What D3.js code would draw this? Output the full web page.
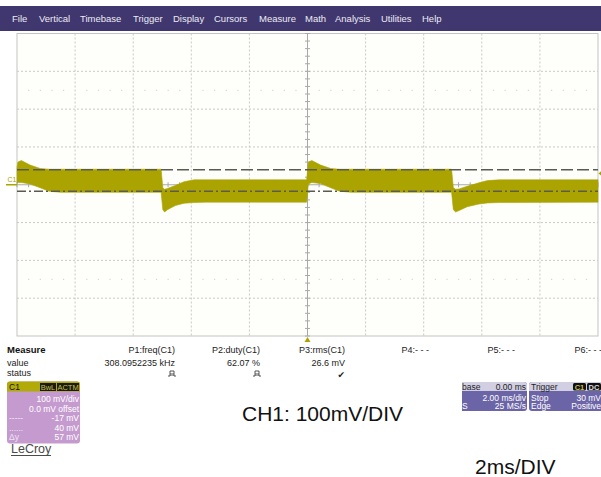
<!DOCTYPE html>
<html><head><meta charset="utf-8">
<script src="https://cdn.jsdelivr.net/npm/d3@7"></script>
<style>
html,body{margin:0;padding:0;background:#fff;}
svg{display:block;font-family:"Liberation Sans",Arial,sans-serif;}
</style></head>
<body>
<script>
// ---------------- data ----------------
const menuItems = ["File","Vertical","Timebase","Trigger","Display","Cursors","Measure","Math","Analysis","Utilities","Help"];
const menuX = [12,39,80,133,173,214,259,305,335,381,422];

// waveform envelope (time in ms, voltage in mV)
const timeMs  = [-10.00,-9.97,-9.85,-9.55,-9.20,-8.90,-8.50,-5.04,-4.98,-4.92,-4.82,-4.55,-4.25,-3.90,-3.50,-0.03,0.03,0.15,0.45,0.80,1.10,1.50,4.96,5.02,5.10,5.22,5.50,5.90,6.20,6.60,10.00];
const upperMv = [45,60,64,52,43,41,41,41,-8,-12,-10,-2,8,13,13,13,60,64,52,43,41,41,41,-8,-12,-11,-4,5,11,13,13];
const lowerMv = [4,6,6,2,-8,-17,-20,-20,-66,-72,-66,-55,-49,-47,-46,-46,2,6,3,-8,-17,-20,-20,-66,-72,-68,-58,-51,-48,-47,-46];

const cursorMv = [40, -17];       // horizontal cursors
const triggerLevelMv = 30;
const triggerTimeMs = 0;

const measNames  = ["P1:freq(C1)","P2:duty(C1)","P3:rms(C1)","P4:- - -","P5:- - -","P6:- - -"];
const measValues = ["308.0952235 kHz","62.07 %","26.6 mV","","",""];
const measStatus = ["pulse","pulse","check","","",""];

const chRows = [["","100 mV/div"],["","0.0 mV offset"],["-----","-17 mV"],["......","40 mV"],["\u0394y","57 mV"]];
const tbHeader = ["base","0.00 ms"];
const tbRows = [["","2.00 ms/div"],["S","25 MS/s"]];
const trRows = [["Stop","30 mV"],["Edge","Positive"]];

// ---------------- drawing ----------------
const W = 601, H = 477;
const olive = "#aba400";
const svg = d3.select("body").append("svg").attr("width",W).attr("height",H);

// menu bar
svg.append("rect").attr("x",0).attr("y",6).attr("width",W).attr("height",25).attr("fill","#40376f");
svg.selectAll("text.menu").data(menuItems).join("text").attr("class","menu")
  .attr("x",(d,i)=>menuX[i]).attr("y",22).attr("font-size",9.5).attr("fill","#ecebf4").text(d=>d);

// scales
const x = d3.scaleLinear().domain([-10,10]).range([17,598]);
const y = d3.scaleLinear().domain([-400,400]).range([336,33.5]);

const plot = svg.append("g");
plot.append("rect").attr("x",x(-10)).attr("y",y(400)).attr("width",x(10)-x(-10)).attr("height",y(-400)-y(400))
  .attr("fill","#fefefb").attr("stroke","#c4c4c4").attr("stroke-width",1);

const tGrid = d3.range(-8, 9, 2).filter(d=>d!==0);
const vGrid = d3.range(-300, 301, 100).filter(d=>d!==0);
plot.selectAll("line.vg").data(tGrid).join("line").attr("class","vg")
  .attr("x1",d=>x(d)).attr("x2",d=>x(d)).attr("y1",y(400)).attr("y2",y(-400))
  .attr("stroke","#c9c9c9").attr("stroke-dasharray","2,2");
plot.selectAll("line.hg").data(vGrid).join("line").attr("class","hg")
  .attr("x1",x(-10)).attr("x2",x(10)).attr("y1",d=>y(d)).attr("y2",d=>y(d))
  .attr("stroke","#c9c9c9").attr("stroke-dasharray","2,2");

// faint dots rows
const dotT = d3.range(-10, 10.01, 0.4).filter(d=>Math.abs(d/2-Math.round(d/2))>0.01);
[250,-250].forEach(v=>{
  plot.selectAll(null).data(dotT).join("rect")
    .attr("x",d=>x(d)-0.5).attr("y",y(v)-0.5).attr("width",1.2).attr("height",1.2).attr("fill","#d6d6d6");
});

// center axes with minor ticks
plot.append("line").attr("x1",x(0)).attr("x2",x(0)).attr("y1",y(400)).attr("y2",y(-400)).attr("stroke","#a8a8a8");
plot.append("line").attr("x1",x(-10)).attr("x2",x(10)).attr("y1",y(0)).attr("y2",y(0)).attr("stroke","#a8a8a8");
plot.selectAll("line.vt").data(d3.range(-400,401,20)).join("line").attr("class","vt")
  .attr("x1",x(0)-2.5).attr("x2",x(0)+2.5).attr("y1",d=>y(d)).attr("y2",d=>y(d)).attr("stroke","#a8a8a8");
plot.selectAll("line.ht").data(d3.range(-10,10.01,0.4)).join("line").attr("class","ht")
  .attr("x1",d=>x(d)).attr("x2",d=>x(d)).attr("y1",y(0)-2.5).attr("y2",y(0)+2.5).attr("stroke","#a8a8a8");

// waveform band
const wave = timeMs.map((t,i)=>({t, hi:upperMv[i], lo:lowerMv[i]}));
const area = d3.area().x(d=>x(d.t)).y0(d=>y(d.lo)).y1(d=>y(d.hi));
plot.append("path").datum(wave).attr("d",area).attr("fill",olive).attr("stroke",olive).attr("stroke-width",0.6);

// cursors
const cursorDash = ["12,4","9,3,2,3"];
plot.selectAll("line.cur").data(cursorMv).join("line").attr("class","cur")
  .attr("x1",x(-10)).attr("x2",x(10)).attr("y1",d=>y(d)).attr("y2",d=>y(d))
  .attr("stroke","#5b5a50").attr("stroke-width",1.5).attr("stroke-dasharray",(d,i)=>cursorDash[i]);

// C1 ground marker
svg.append("text").attr("x",7.5).attr("y",182).attr("font-size",7).attr("fill",olive).text("C1");
svg.append("line").attr("x1",6).attr("x2",17).attr("y1",y(0)).attr("y2",y(0)).attr("stroke",olive).attr("stroke-width",1.5);
// trigger level marker right
svg.append("path").attr("d",`M${x(10)+0.5},${y(triggerLevelMv)} l3,-2.5 v5 z`).attr("fill",olive);
// trigger time marker bottom
svg.append("path").attr("d",`M${x(triggerTimeMs)},${y(-400)+1} l-3,5 h6 z`).attr("fill",olive);

// measure table
const mf = 9;
svg.append("text").attr("x",7).attr("y",353).attr("font-size",9.5).attr("font-weight","bold").attr("fill","#111").text("Measure");
svg.append("text").attr("x",7).attr("y",365.5).attr("font-size",mf).attr("fill","#222").text("value");
svg.append("text").attr("x",7).attr("y",375.5).attr("font-size",mf).attr("fill","#222").text("status");
const measRight = [175,260,345,429,515,602];
svg.selectAll("text.mn").data(measNames).join("text").attr("class","mn")
  .attr("x",(d,i)=>measRight[i]).attr("y",353).attr("text-anchor","end").attr("font-size",mf).attr("fill","#222").text(d=>d);
svg.selectAll("text.mv").data(measValues).join("text").attr("class","mv")
  .attr("x",(d,i)=>measRight[i]).attr("y",365.5).attr("text-anchor","end").attr("font-size",mf).attr("fill","#222").text(d=>d);
measStatus.forEach((s,i)=>{
  const cx = measRight[i]-3;
  if(s==="pulse"){
    svg.append("path").attr("d",`M${cx-4},376 h2 v-5 h4 v5 h2 M${cx-1},376 v-3 M${cx+1},376 v-3`)
      .attr("fill","none").attr("stroke","#444").attr("stroke-width",0.9);
  } else if(s==="check"){
    svg.append("text").attr("x",measRight[i]).attr("y",378).attr("text-anchor","end")
      .attr("font-family","DejaVu Sans").attr("font-size",9).attr("fill","#222").text("\u2714");
  }
});

// C1 channel box
const cb = svg.append("g");
cb.append("rect").attr("x",7).attr("y",381.5).attr("width",73).attr("height",62).attr("rx",3).attr("fill","#c59bcf");
cb.append("path").attr("d","M7,391.5 v-7 a3,3 0 0 1 3,-3 h67 a3,3 0 0 1 3,3 v7 z").attr("fill","#b1aa08");
cb.append("text").attr("x",9).attr("y",390).attr("font-size",8.5).attr("fill","#111").text("C1");
cb.append("rect").attr("x",40).attr("y",383).attr("width",16).attr("height",8).attr("fill","#1a1a10");
cb.append("rect").attr("x",57).attr("y",383).attr("width",22).attr("height",8).attr("fill","#1a1a10");
cb.append("text").attr("x",48).attr("y",390).attr("text-anchor","middle").attr("font-size",7.5).attr("fill","#c8c050").text("BwL");
cb.append("text").attr("x",68).attr("y",390).attr("text-anchor","middle").attr("font-size",7.5).attr("fill","#c8c050").text("ACTM");
chRows.forEach((r,i)=>{
  const by = 402 + i*9.5;
  cb.append("text").attr("x",9).attr("y",by).attr("font-size",8.5).attr("fill","#efe4f2").text(r[0]);
  cb.append("text").attr("x",79).attr("y",by).attr("text-anchor","end").attr("font-size",8.5).attr("fill","#fff").text(r[1]);
});
svg.append("text").attr("x",11).attr("y",453).attr("font-size",12.5).attr("fill","#4a4a4a").text("LeCroy");
svg.append("line").attr("x1",11).attr("x2",51).attr("y1",455.5).attr("y2",455.5).attr("stroke","#4a4a4a").attr("stroke-width",1);

// timebase box
const tb = svg.append("g");
tb.append("path").attr("d","M462,382 h62 a3,3 0 0 1 3,3 v23 a3,3 0 0 1 -3,3 h-62 z").attr("fill","#6b64a6");
tb.append("path").attr("d","M462,382 h62 a3,3 0 0 1 3,3 v6 h-65 z").attr("fill","#d2cfe2");
tb.append("text").attr("x",462).attr("y",389.5).attr("font-size",8.5).attr("fill","#222").text(tbHeader[0]);
tb.append("text").attr("x",526).attr("y",389.5).attr("text-anchor","end").attr("font-size",8.5).attr("fill","#222").text(tbHeader[1]);
tbRows.forEach((r,i)=>{
  const by = 400.5 + i*8.5;
  tb.append("text").attr("x",462).attr("y",by).attr("font-size",8.5).attr("fill","#fff").text(r[0]);
  tb.append("text").attr("x",526).attr("y",by).attr("text-anchor","end").attr("font-size",8.5).attr("fill","#fff").text(r[1]);
});
// trigger box
const tr = svg.append("g");
tr.append("path").attr("d","M529,385 a3,3 0 0 1 3,-3 h69 v29 h-69 a3,3 0 0 1 -3,-3 z").attr("fill","#6b64a6");
tr.append("path").attr("d","M529,391 v-6 a3,3 0 0 1 3,-3 h69 v9 z").attr("fill","#d2cfe2");
tr.append("text").attr("x",531).attr("y",389.5).attr("font-size",8.5).attr("fill","#222").text("Trigger");
tr.append("rect").attr("x",573).attr("y",383).attr("width",13).attr("height",7.5).attr("rx",1.5).attr("fill","#111");
tr.append("rect").attr("x",587).attr("y",383).attr("width",14).attr("height",7.5).attr("rx",1.5).attr("fill","#111");
tr.append("text").attr("x",579.5).attr("y",389.5).attr("text-anchor","middle").attr("font-size",7.5).attr("font-weight","bold").attr("fill","#c8c050").text("C1");
tr.append("text").attr("x",594).attr("y",389.5).attr("text-anchor","middle").attr("font-size",7.5).attr("font-weight","bold").attr("fill","#ddd").text("DC");
trRows.forEach((r,i)=>{
  const by = 400.5 + i*8.5;
  tr.append("text").attr("x",531).attr("y",by).attr("font-size",8.5).attr("fill","#fff").text(r[0]);
  tr.append("text").attr("x",601).attr("y",by).attr("text-anchor","end").attr("font-size",8.5).attr("fill","#fff").text(r[1]);
});

// annotations
svg.append("text").attr("x",242).attr("y",421).attr("font-size",21).attr("fill","#111").text("CH1: 100mV/DIV");
svg.append("text").attr("x",475).attr("y",474).attr("font-size",21).attr("fill","#111").text("2ms/DIV");
</script>
</body></html>
